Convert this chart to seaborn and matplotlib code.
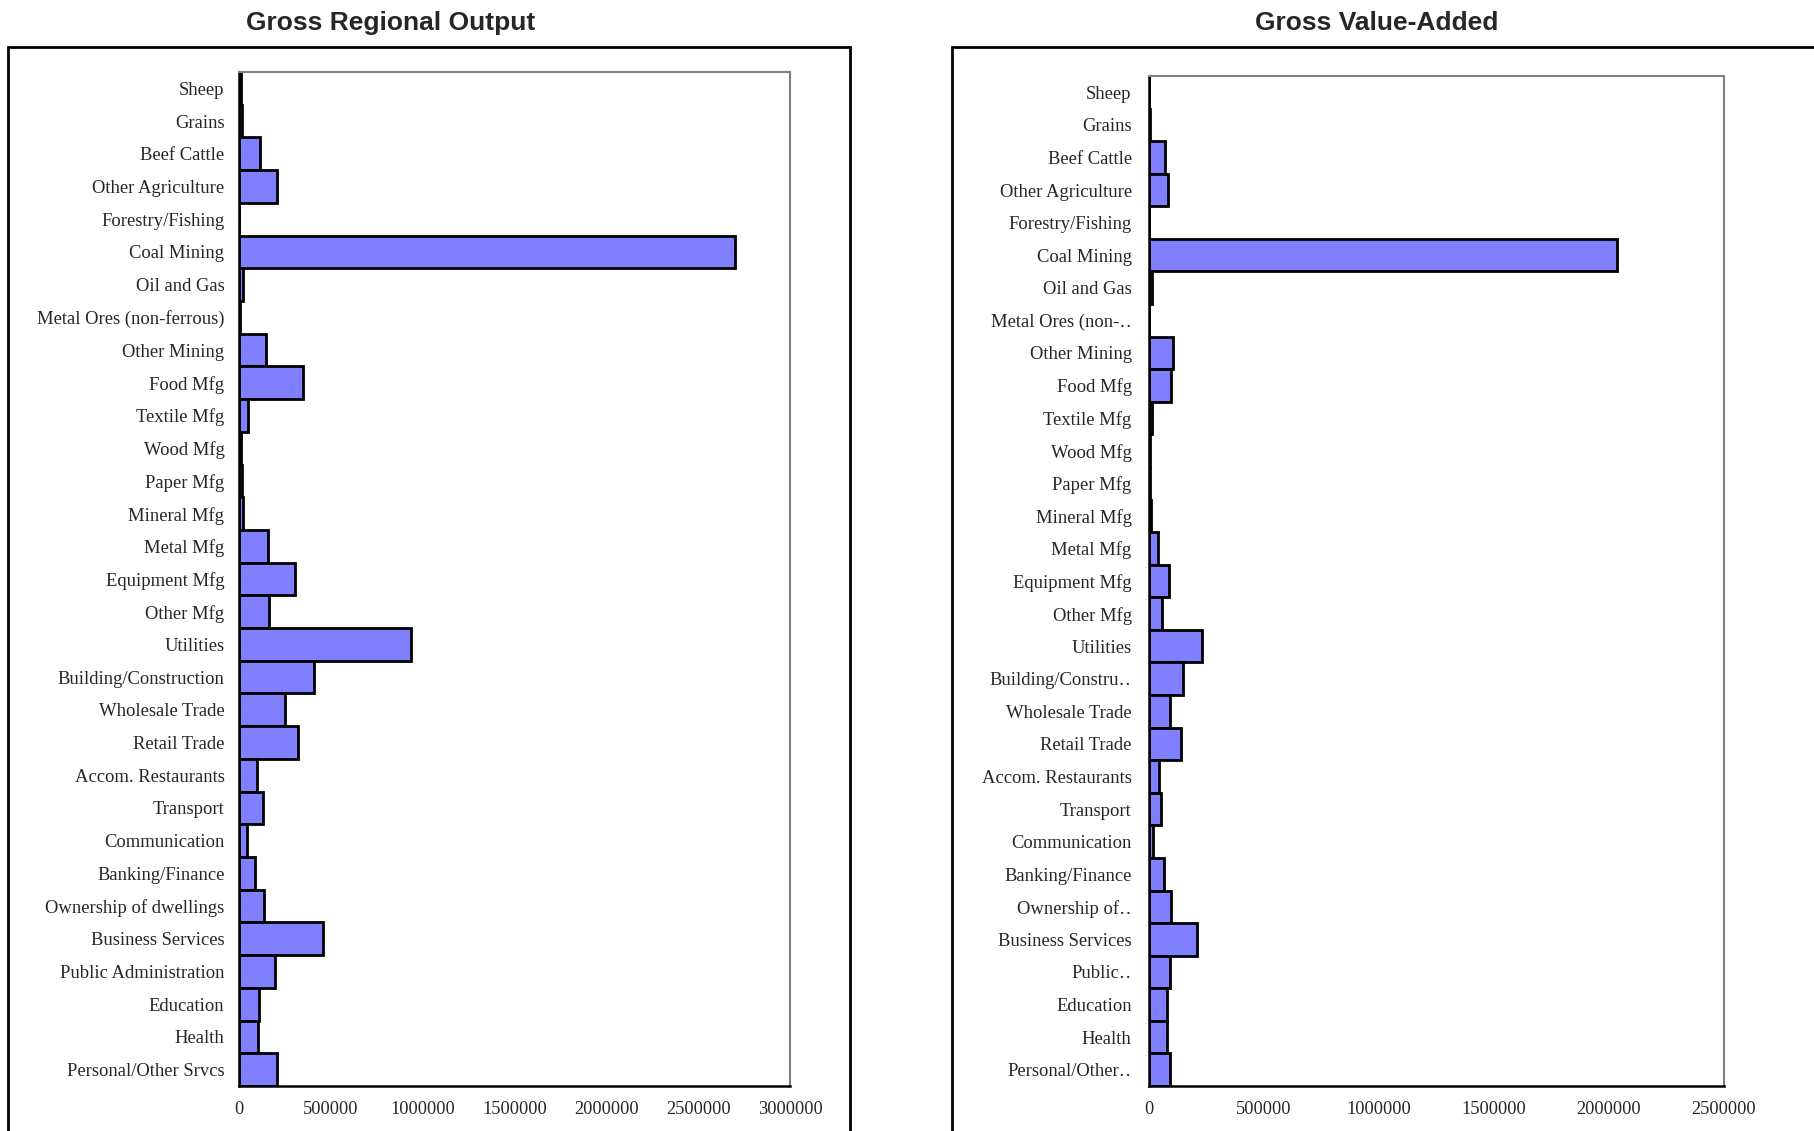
import matplotlib
matplotlib.use('Agg')
import matplotlib.pyplot as plt
from matplotlib.patches import Rectangle
import seaborn as sns
import pandas as pd

sectors = ['Sheep', 'Grains', 'Beef Cattle', 'Other Agriculture', 'Forestry/Fishing',
           'Coal Mining', 'Oil and Gas', 'Metal Ores (non-ferrous)', 'Other Mining',
           'Food Mfg', 'Textile Mfg', 'Wood Mfg', 'Paper Mfg', 'Mineral Mfg', 'Metal Mfg',
           'Equipment Mfg', 'Other Mfg', 'Utilities', 'Building/Construction',
           'Wholesale Trade', 'Retail Trade', 'Accom. Restaurants', 'Transport',
           'Communication', 'Banking/Finance', 'Ownership of dwellings',
           'Business Services', 'Public Administration', 'Education', 'Health',
           'Personal/Other Srvcs']

# labels as they appear (cut short) on the value-added chart
sectors_gva = ['Sheep', 'Grains', 'Beef Cattle', 'Other Agriculture', 'Forestry/Fishing',
               'Coal Mining', 'Oil and Gas', 'Metal Ores (non-\u2025', 'Other Mining',
               'Food Mfg', 'Textile Mfg', 'Wood Mfg', 'Paper Mfg', 'Mineral Mfg', 'Metal Mfg',
               'Equipment Mfg', 'Other Mfg', 'Utilities', 'Building/Constru\u2025',
               'Wholesale Trade', 'Retail Trade', 'Accom. Restaurants', 'Transport',
               'Communication', 'Banking/Finance', 'Ownership of\u2025',
               'Business Services', 'Public\u2025', 'Education', 'Health',
               'Personal/Other\u2025']

gro = [9000, 14000, 116000, 207000, 2000, 2700000, 22000, 3000, 148000,
       351000, 48000, 9000, 16000, 20000, 157000, 303000, 161000, 934000, 408000,
       251000, 320000, 99000, 132000, 41000, 87000, 138000, 459000, 196000,
       108000, 105000, 209000]

gva = [2000, 3000, 68000, 81000, 1000, 2034000, 13000, 1000, 103000,
       94000, 12000, 4000, 6000, 7000, 38000, 87000, 56000, 229000, 148000,
       93000, 139000, 42000, 54000, 16000, 65000, 94000, 207000, 93000,
       77000, 78000, 91000]

gro_ticks = [0, 500000, 1000000, 1500000, 2000000, 2500000, 3000000]
gva_ticks = [0, 500000, 1000000, 1500000, 2000000, 2500000]

BAR_COLOR = '#8080FF'


def bar_chart(ax, labels, values, ticks, label_pad):
    df = pd.DataFrame({'sector': labels, 'value': values})
    sns.barplot(data=df, x='value', y='sector', ax=ax, color=BAR_COLOR,
                saturation=1, edgecolor='black', linewidth=2, width=1.0)
    n = len(labels)
    ax.set_ylim(n - 0.5, -0.5)
    ax.set_xlim(ticks[0], ticks[-1])
    ax.set_xticks(ticks)
    ax.set_xticklabels([str(t) for t in ticks], fontsize=13.2)
    ax.set_yticks(range(n))
    ax.set_yticklabels(labels, fontsize=13.4)
    ax.set_yticks([i - 0.5 for i in range(n + 1)], minor=True)
    ax.tick_params(axis='y', which='major', length=0, pad=label_pad)
    ax.tick_params(axis='y', which='minor', length=7, width=1, color='#555555', direction='out')
    ax.tick_params(axis='x', which='major', length=9, width=1, color='black',
                   direction='inout', pad=6)
    ax.set_xlabel('')
    ax.set_ylabel('')
    ax.grid(False)
    for side in ['top', 'right']:
        ax.spines[side].set_color('#808080')
        ax.spines[side].set_linewidth(1.5)
    for side in ['left', 'bottom']:
        ax.spines[side].set_color('black')
        ax.spines[side].set_linewidth(1.8)


def main():
    sns.set_theme(style='white')
    plt.rcParams['font.family'] = ['Liberation Serif', 'DejaVu Serif']

    fig = plt.figure(figsize=(18.14, 11.31), dpi=100)
    fig.patch.set_facecolor('white')

    ax1 = fig.add_axes([239 / 1814, 1 - 1086 / 1131, 551 / 1814, (1086 - 72) / 1131])
    ax2 = fig.add_axes([1149 / 1814, 1 - 1086 / 1131, 575 / 1814, (1086 - 76) / 1131])

    bar_chart(ax1, sectors, gro, gro_ticks, 10.5)
    bar_chart(ax2, sectors_gva, gva, gva_ticks, 12.5)

    # chart frames, cut by the picture edge
    fig.add_artist(Rectangle((8 / 1814, -0.1), (850 - 8) / 1814, 1 - 47 / 1131 + 0.1,
                             transform=fig.transFigure, fill=False, lw=2,
                             edgecolor='black', clip_on=False))
    fig.add_artist(Rectangle((952 / 1814, -0.1), 0.6, 1 - 47 / 1131 + 0.1,
                             transform=fig.transFigure, fill=False, lw=2,
                             edgecolor='black', clip_on=False))

    fig.text(391 / 1814, 1 - 23 / 1131, 'Gross Regional Output', ha='center', va='center',
             fontsize=19, fontweight='bold', family=['Liberation Sans', 'DejaVu Sans'])
    fig.text(1377 / 1814, 1 - 23 / 1131, 'Gross Value-Added', ha='center', va='center',
             fontsize=19, fontweight='bold', family=['Liberation Sans', 'DejaVu Sans'])

    fig.savefig('out.png', dpi=100)


if __name__ == '__main__':
    main()
